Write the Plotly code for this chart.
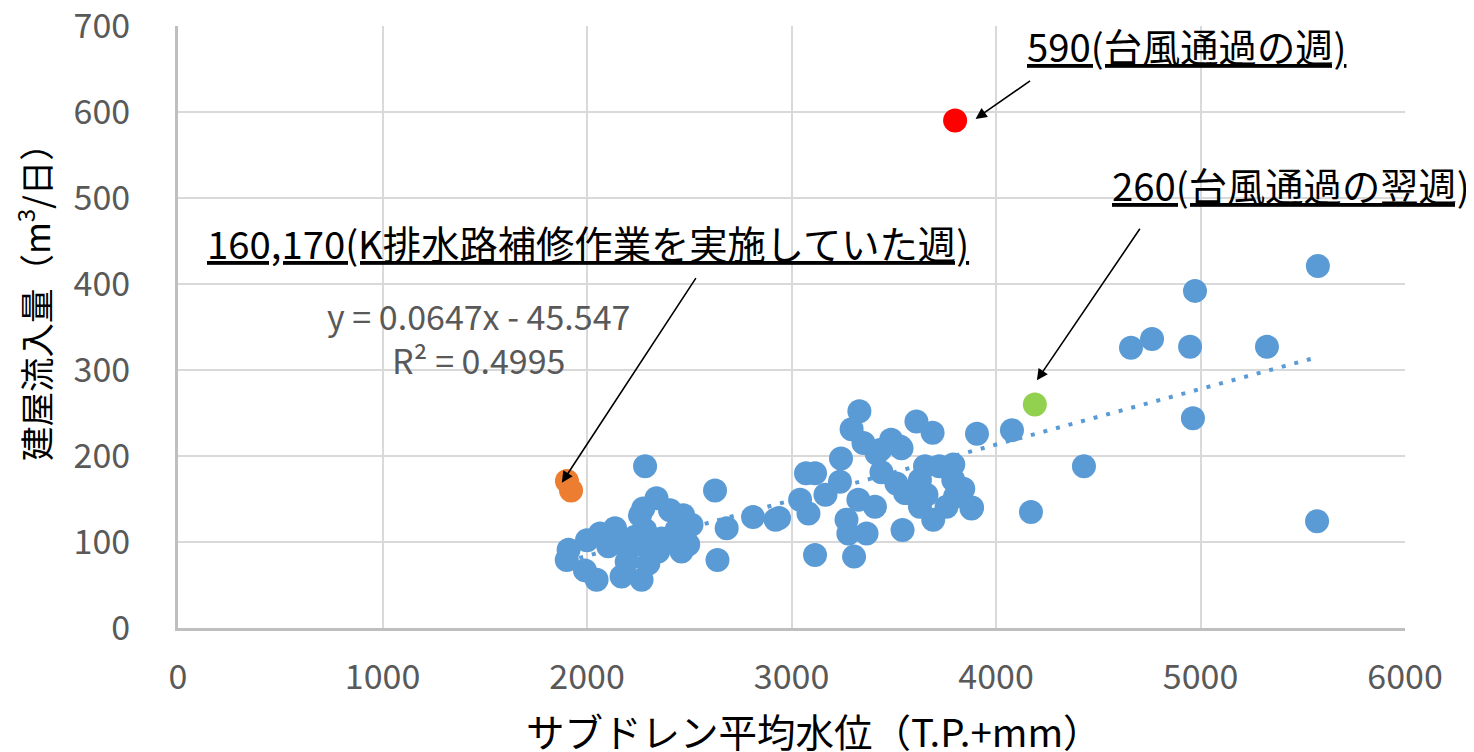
import plotly.graph_objects as go

# --- data ---
blue_x = [5574, 4973, 4660, 4763, 4949, 5325, 4963, 4430, 4171, 5570, 4078, 3907, 3883,
          3332, 3294, 3352, 3487, 3538, 3611, 3690, 3416, 3242, 3071, 3115, 3440, 3653, 3723,
          3791, 3562, 3237, 3166, 3042, 3083, 2922, 3840, 3800, 3880, 3693, 3758, 3555, 3628,
          3327, 3408, 3269, 3278, 3367, 3543, 3115, 3306, 3433, 3531, 3628, 3513, 3660, 3791,
          2812, 2939, 2626, 2683, 2638, 2284,
          2340, 2275, 2259, 2406, 2471, 2511, 2495, 2462, 2348, 2365, 2284, 2137, 2064, 2000,
          1910, 1901, 1990, 2047, 2169, 2267, 2202, 2194, 2104, 2145, 2235, 2284, 2300, 2438, 2430]
blue_y = [421, 392, 326, 336, 327, 327, 244, 188, 135, 124, 230, 226, 140,
          252, 231, 215, 219, 209, 240, 227, 203, 197, 180, 180, 181, 188, 188,
          190, 157, 170, 155, 149, 133, 126, 162, 153, 139, 126, 141, 157, 141,
          149, 141, 126, 110, 110, 114, 85, 83, 207, 211, 172, 168, 155, 172,
          129, 128, 160, 116, 79, 188,
          151, 139, 131, 137, 131, 120, 97, 89, 89, 104, 114, 116, 110, 102,
          91, 79, 67, 56, 60, 56, 91, 77, 95, 100, 106, 95, 75, 114, 102]

typhoon_x = [3800]
typhoon_y = [590]
after_typhoon_x = [4190]
after_typhoon_y = [260]
repair_x = [1902, 1922]
repair_y = [171, 160]

trend_slope = 0.0647
trend_intercept = -45.547

x_ticks = [0, 1000, 2000, 3000, 4000, 5000, 6000]
y_ticks = [0, 100, 200, 300, 400, 500, 600, 700]

x_title = "サブドレン平均水位（T.P.+mm）"
y_title = "建屋流入量（m<sup>3</sup>/日）"

FONT = "Noto Sans CJK JP"
BLUE = "#5B9BD5"

all_x = blue_x + typhoon_x + after_typhoon_x + repair_x
tx = [min(all_x), max(all_x)]
ty = [trend_slope * v + trend_intercept for v in tx]

fig = go.Figure()
fig.add_trace(go.Scatter(x=tx, y=ty, mode="lines",
                         line=dict(color=BLUE, width=4, dash="4px,9px"),
                         hoverinfo="skip", showlegend=False))
fig.add_trace(go.Scatter(x=blue_x, y=blue_y, mode="markers",
                         marker=dict(color=BLUE, size=24, line=dict(width=0)),
                         showlegend=False))
fig.add_trace(go.Scatter(x=repair_x, y=repair_y, mode="markers",
                         marker=dict(color="#ED7D31", size=24, line=dict(width=0)),
                         showlegend=False))
fig.add_trace(go.Scatter(x=after_typhoon_x, y=after_typhoon_y, mode="markers",
                         marker=dict(color="#92D050", size=24, line=dict(width=0)),
                         showlegend=False))
fig.add_trace(go.Scatter(x=typhoon_x, y=typhoon_y, mode="markers",
                         marker=dict(color="#FF0000", size=24, line=dict(width=0)),
                         showlegend=False))

ann_font = dict(family=FONT, size=38.3, color="#000000")
annotations = [
    # labels
    dict(xref="paper", yref="paper", x=0.822, y=0.967, xanchor="center", yanchor="middle",
         text="<u>590(台風通過の週)</u>", showarrow=False, font=ann_font),
    dict(xref="paper", yref="paper", x=0.907, y=0.737, xanchor="center", yanchor="middle",
         text="<u>260(台風通過の翌週)</u>", showarrow=False, font=ann_font),
    dict(xref="paper", yref="paper", x=0.334, y=0.64, xanchor="center", yanchor="middle",
         text="<u>160,170(K排水路補修作業を実施していた週)</u>", showarrow=False, font=ann_font),
    # equation
    dict(xref="paper", yref="paper", x=0.245, y=0.483, xanchor="center", yanchor="middle",
         text="y = 0.0647x - 45.547<br>R² = 0.4995", showarrow=False, align="center",
         font=dict(family=FONT, size=34, color="#595959")),
    # axis titles
    dict(xref="paper", yref="paper", x=0.518, y=-0.169, xanchor="center", yanchor="middle",
         text=x_title, showarrow=False, font=dict(family=FONT, size=38.5, color="#000000")),
    dict(xref="paper", yref="paper", x=-0.118, y=0.555, xanchor="center", yanchor="middle",
         text=y_title, showarrow=False, textangle=-90,
         font=dict(family=FONT, size=34.5, color="#000000")),
    # arrows
    dict(xref="x", yref="y", x=typhoon_x[0] + 100, y=typhoon_y[0] + 2, ax=56, ay=-39,
         text="", showarrow=True, arrowhead=2, arrowsize=1.4, arrowwidth=1.6, arrowcolor="#000000"),
    dict(xref="x", yref="y", x=after_typhoon_x[0] + 10, y=after_typhoon_y[0] + 28, ax=104, ay=-153,
         text="", showarrow=True, arrowhead=2, arrowsize=1.4, arrowwidth=1.6, arrowcolor="#000000"),
    dict(xref="x", yref="y", x=repair_x[0] - 25, y=repair_y[0] - 2, ax=135, ay=-206,
         text="", showarrow=True, arrowhead=2, arrowsize=1.4, arrowwidth=1.6, arrowcolor="#000000"),
]

fig.update_layout(
    width=1466, height=744,
    margin=dict(l=170, r=69, t=18, b=124, autoexpand=False),
    paper_bgcolor="white", plot_bgcolor="white",
    font=dict(family=FONT, color="#595959"),
    annotations=annotations,
    showlegend=False,
)
fig.update_xaxes(range=[0, 6000], tickvals=x_ticks, ticks="", automargin=False,
                 showgrid=True, gridcolor="#D9D9D9", gridwidth=2,
                 showline=True, linecolor="#BFBFBF", linewidth=3,
                 zeroline=False, ticklabelstandoff=17, ticklabeloverflow="allow",
                 tickfont=dict(family=FONT, size=34, color="#595959"))
fig.update_yaxes(range=[0, 700], tickvals=y_ticks, ticks="", automargin=False,
                 showgrid=True, gridcolor="#D9D9D9", gridwidth=2,
                 showline=True, linecolor="#BFBFBF", linewidth=3,
                 zeroline=False, ticklabelstandoff=38, ticklabeloverflow="allow",
                 tickfont=dict(family=FONT, size=34, color="#595959"))

fig.write_html("out.html")
